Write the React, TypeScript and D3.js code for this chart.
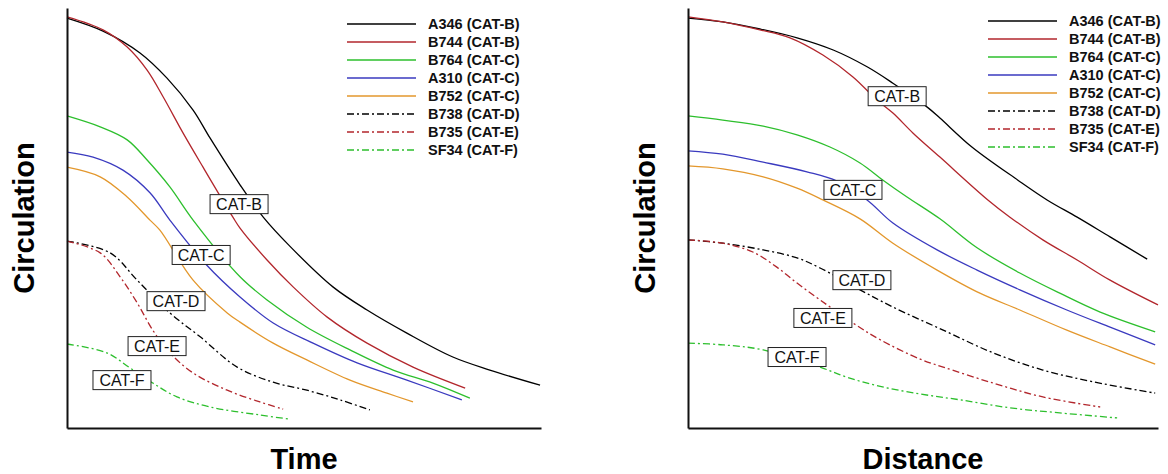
import React, { useEffect, useRef } from "react";
import * as d3 from "d3";

// Legend entries (aircraft type and wake category)
const seriesNames = [
  "A346 (CAT-B)",
  "B744 (CAT-B)",
  "B764 (CAT-C)",
  "A310 (CAT-C)",
  "B752 (CAT-C)",
  "B738 (CAT-D)",
  "B735 (CAT-E)",
  "SF34 (CAT-F)",
];

// Circulation decay versus time, [time, circulation] in relative units (0-100)
const timeA346: [number, number][] = [[0, 97.6], [7.6, 94.5], [15.4, 89.3], [21.1, 83.3], [26.6, 75.7], [30.2, 69.0], [36.5, 57.9], [41.4, 50.2], [47.0, 43.3], [56.1, 33.6], [63.3, 28.1], [71.7, 22.6], [81.4, 16.9], [89.2, 13.8], [99.8, 10.2]];
const timeB744: [number, number][] = [[0, 97.9], [7.6, 94.8], [12.7, 90.7], [16.9, 85.2], [20.3, 78.8], [24.5, 70.2], [28.7, 62.1], [35.0, 50.2], [36.5, 47.6], [42.2, 40.0], [47.7, 33.6], [54.9, 26.4], [63.3, 20.2], [73.0, 14.5], [84.0, 9.5]];
const timeB764: [number, number][] = [[0, 74.3], [7.0, 71.7], [12.7, 68.6], [16.9, 63.8], [21.7, 57.4], [26.6, 49.5], [36.5, 36.0], [42.2, 30.5], [50.6, 24.0], [59.7, 18.6], [68.8, 13.8], [77.2, 10.7], [85.0, 7.1]];
const timeA310: [number, number][] = [[0, 65.7], [5.5, 64.5], [11.8, 61.4], [17.5, 56.0], [21.7, 49.5], [29.3, 39.0], [36.5, 31.2], [43.5, 25.0], [51.9, 20.2], [61.2, 15.5], [71.7, 11.4], [83.3, 6.7]];
const timeB752: [number, number][] = [[0, 62.1], [7.0, 59.8], [12.7, 55.0], [17.5, 49.5], [19.6, 47.1], [26.6, 35.2], [33.8, 27.4], [36.5, 25.2], [43.5, 20.2], [50.6, 16.2], [59.7, 11.4], [67.5, 8.3], [73.0, 6.2]];
const timeB738: [number, number][] = [[0, 44.5], [9.1, 41.7], [14.8, 35.2], [21.7, 27.4], [28.1, 21.7], [35.9, 14.5], [43.5, 10.9], [50.6, 9.0], [57.6, 6.7], [63.9, 4.3]];
const timeB735: [number, number][] = [[0, 44.5], [7.0, 41.7], [11.2, 36.0], [14.8, 29.8], [18.1, 23.3], [21.7, 17.9], [26.6, 13.1], [33.8, 9.0], [40.7, 6.2], [45.6, 4.5]];
const timeSF34: [number, number][] = [[0, 20.0], [8.4, 17.9], [13.3, 14.3], [18.1, 10.7], [23.2, 7.4], [30.2, 5.0], [40.7, 3.1], [47.0, 2.1]];

// Circulation decay versus distance, [distance, circulation] in relative units (0-100)
const distA346: [number, number][] = [[0, 97.6], [7.4, 96.7], [15.3, 95.0], [23.2, 92.9], [30.9, 90.0], [38.1, 86.0], [43.6, 82.1], [50.9, 76.4], [53.6, 73.8], [60.4, 66.9], [70.2, 59.0], [76.4, 54.3], [82.8, 50.2], [89.8, 45.5], [97.7, 40.2]];
const distB744: [number, number][] = [[0, 97.9], [7.4, 96.7], [15.3, 94.8], [21.7, 92.9], [28.7, 88.8], [35.1, 83.6], [40.2, 78.1], [43.6, 75.0], [47.9, 70.2], [53.6, 64.5], [63.8, 54.3], [68.5, 50.2], [75.5, 44.8], [82.8, 40.0], [89.8, 35.2], [100, 29.3]];
const distB764: [number, number][] = [[0, 74.3], [7.4, 73.3], [16.0, 71.9], [23.2, 69.8], [30.2, 66.9], [36.6, 63.1], [41.5, 59.0], [46.6, 55.0], [53.6, 49.8], [61.5, 42.9], [70.6, 36.9], [79.1, 32.1], [87.7, 27.6], [99.4, 22.9]];
const distA310: [number, number][] = [[0, 66.0], [7.4, 65.2], [16.0, 63.3], [25.3, 61.0], [31.7, 58.8], [38.1, 54.3], [43.6, 48.8], [53.0, 42.4], [61.5, 37.6], [70.6, 32.9], [80.6, 28.1], [89.8, 24.0], [99.4, 19.8]];
const distB752: [number, number][] = [[0, 62.4], [7.4, 61.7], [16.0, 59.8], [23.2, 57.1], [28.7, 54.3], [36.6, 49.8], [43.6, 44.0], [53.0, 37.6], [62.1, 32.1], [70.6, 28.1], [80.6, 23.3], [89.8, 19.3], [99.4, 15.2]];
const distB738: [number, number][] = [[0, 44.8], [7.4, 44.0], [16.0, 42.4], [23.2, 40.5], [28.1, 38.1], [36.6, 32.9], [43.6, 28.8], [54.3, 23.3], [64.9, 17.9], [75.5, 13.8], [86.2, 11.0], [99.4, 8.3]];
const distB735: [number, number][] = [[0, 44.8], [7.4, 44.0], [13.8, 41.9], [18.9, 38.3], [23.2, 34.5], [28.1, 30.5], [35.1, 25.0], [40.9, 21.0], [49.4, 16.4], [54.3, 14.5], [64.9, 10.7], [75.5, 7.4], [87.7, 5.0]];
const distSF34: [number, number][] = [[0, 20.2], [7.4, 19.8], [16.0, 18.6], [28.1, 14.5], [33.8, 12.1], [40.9, 9.9], [49.4, 8.1], [57.9, 6.7], [68.5, 4.8], [79.1, 3.6], [91.3, 2.4]];

// Category labels and their centres in data units
const categoryNames = ["CAT-B", "CAT-C", "CAT-D", "CAT-E", "CAT-F"];
const timeLabelPos: [number, number][] = [[36.3, 53.3], [28.3, 41.2], [23.0, 30.2], [19.0, 19.5], [11.6, 11.4]];
const distLabelPos: [number, number][] = [[44.5, 79.0], [35.1, 56.7], [37.0, 35.2], [28.7, 26.2], [23.2, 16.9]];

const seriesColors = ["#000000", "#b2262c", "#2dbf2d", "#3a3abf", "#e3972c", "#000000", "#b2262c", "#2dbf2d"];
const seriesDashed = [false, false, false, false, false, true, true, true];
const timeSeries = [timeA346, timeB744, timeB764, timeA310, timeB752, timeB738, timeB735, timeSF34];
const distSeries = [distA346, distB744, distB764, distA310, distB752, distB738, distB735, distSF34];

type Panel = {
  left: number;
  right: number;
  top: number;
  bottom: number;
  xTitle: string;
  data: [number, number][][];
  labels: [number, number][];
  legendX: number;
  legendY: number;
  yTitleX: number;
};

const panels: Panel[] = [
  { left: 67, right: 541, top: 8, bottom: 428, xTitle: "Time", data: timeSeries, labels: timeLabelPos, legendX: 347, legendY: 24, yTitleX: 34 },
  { left: 688, right: 1158, top: 8, bottom: 428, xTitle: "Distance", data: distSeries, labels: distLabelPos, legendX: 988, legendY: 21, yTitleX: 655 },
];

const FONT = "'Liberation Sans', Arial, Helvetica, sans-serif";

export default function App() {
  const ref = useRef<SVGSVGElement>(null);

  useEffect(() => {
    const svg = d3.select(ref.current);
    svg.selectAll("*").remove();

    panels.forEach((p) => {
      const x = d3.scaleLinear().domain([0, 100]).range([p.left, p.right]);
      const y = d3.scaleLinear().domain([0, 100]).range([p.bottom, p.top]);
      const g = svg.append("g");

      const line = d3
        .line<[number, number]>()
        .x((d) => x(d[0]))
        .y((d) => y(d[1]))
        .curve(d3.curveCatmullRom.alpha(0.5));

      // curves
      p.data.forEach((s, i) => {
        g.append("path")
          .attr("d", line(s) as string)
          .attr("fill", "none")
          .attr("stroke", seriesColors[i])
          .attr("stroke-width", 1.3)
          .attr("stroke-dasharray", seriesDashed[i] ? "7,3,2,3" : null);
      });

      // axes: plain lines without ticks
      g.append("g")
        .attr("transform", `translate(0,${p.bottom})`)
        .call(d3.axisBottom(x).tickValues([]).tickSizeOuter(0))
        .select(".domain")
        .attr("stroke", "#111")
        .attr("stroke-width", 2.2);
      g.append("g")
        .attr("transform", `translate(${p.left},0)`)
        .call(d3.axisLeft(y).tickValues([]).tickSizeOuter(0))
        .select(".domain")
        .attr("stroke", "#111")
        .attr("stroke-width", 2);

      // category labels in boxes
      p.labels.forEach((pos, i) => {
        const cx = x(pos[0]);
        const cy = y(pos[1]);
        const lg = g.append("g").attr("transform", `translate(${cx},${cy})`);
        lg.append("rect")
          .attr("x", -29)
          .attr("y", -9.5)
          .attr("width", 58)
          .attr("height", 19)
          .attr("fill", "#fff")
          .attr("stroke", "#222")
          .attr("stroke-width", 1);
        lg.append("text")
          .attr("text-anchor", "middle")
          .attr("y", 6)
          .attr("font-family", FONT)
          .attr("font-size", 16)
          .attr("fill", "#111")
          .text(categoryNames[i]);
      });

      // legend
      seriesNames.forEach((name, i) => {
        const ly = p.legendY + i * 18;
        g.append("line")
          .attr("x1", p.legendX)
          .attr("x2", p.legendX + 69)
          .attr("y1", ly)
          .attr("y2", ly)
          .attr("stroke", seriesColors[i])
          .attr("stroke-width", 1.5)
          .attr("stroke-dasharray", seriesDashed[i] ? "7,3,2,3" : null);
        g.append("text")
          .attr("x", p.legendX + 81)
          .attr("y", ly + 5)
          .attr("font-family", FONT)
          .attr("font-weight", "bold")
          .attr("font-size", 14.5)
          .attr("fill", "#111")
          .text(name);
      });

      // axis titles
      g.append("text")
        .attr("x", (p.left + p.right) / 2)
        .attr("y", 469)
        .attr("text-anchor", "middle")
        .attr("font-family", FONT)
        .attr("font-weight", "bold")
        .attr("font-size", 29)
        .attr("fill", "#000")
        .text(p.xTitle);
      g.append("text")
        .attr("transform", `translate(${p.yTitleX},${(p.top + p.bottom) / 2}) rotate(-90)`)
        .attr("text-anchor", "middle")
        .attr("font-family", FONT)
        .attr("font-weight", "bold")
        .attr("font-size", 29)
        .attr("fill", "#000")
        .text("Circulation");
    });
  }, []);

  return (
    <svg
      ref={ref}
      width={1168}
      height={474}
      style={{ position: "absolute", left: 0, top: 0, background: "#fff" }}
    />
  );
}
